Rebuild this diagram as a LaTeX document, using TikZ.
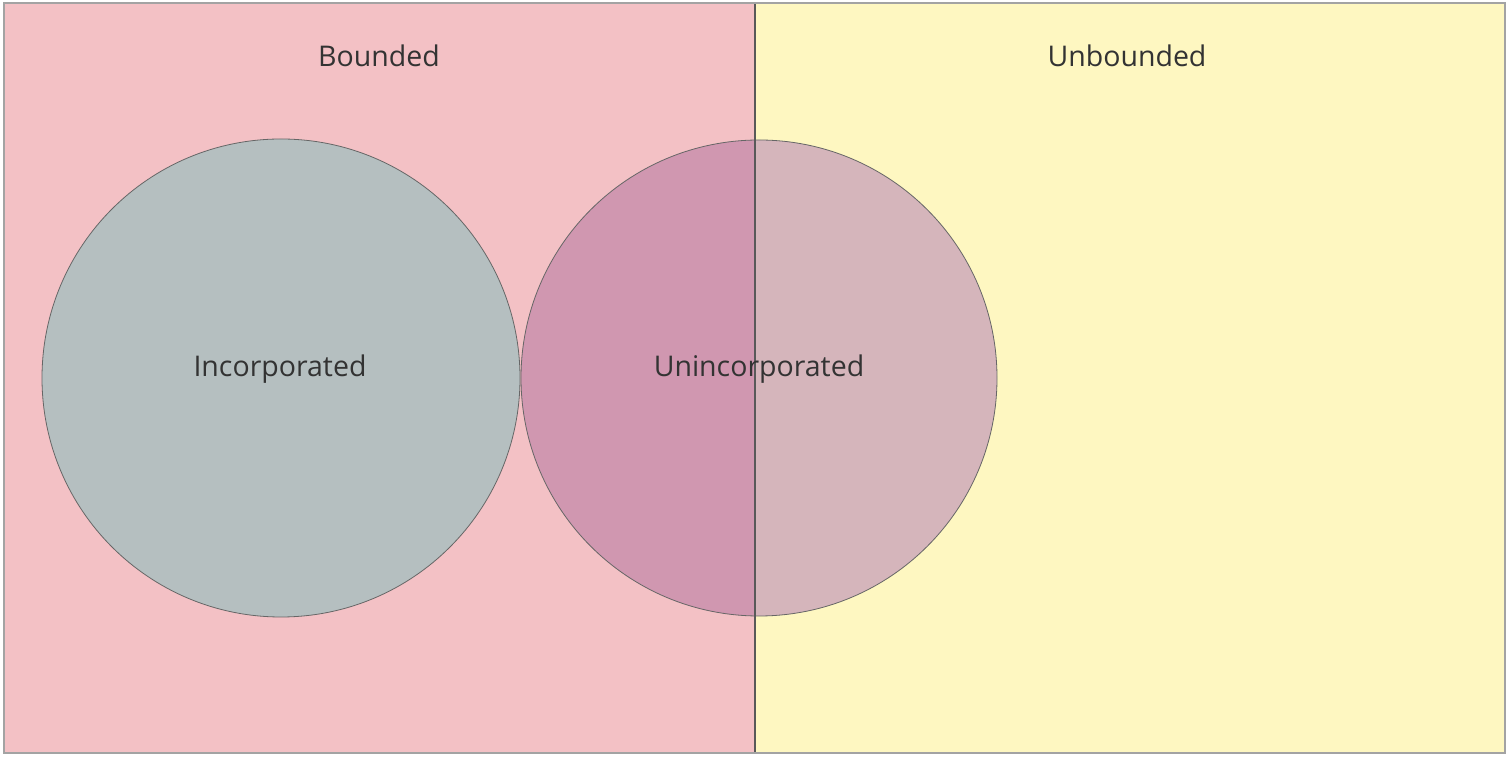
\documentclass[tikz,border=0pt]{standalone}
\usepackage{fontspec}
\setmainfont{Open Sans}
\definecolor{bpink}{HTML}{F3C1C5}
\definecolor{uyellow}{HTML}{FEF7C1}
\definecolor{incgray}{HTML}{B5BFC0}
\definecolor{unleft}{HTML}{D097B0}
\definecolor{unright}{HTML}{D5B5BB}
\definecolor{frame}{HTML}{A3A3A3}
\definecolor{txt}{HTML}{333333}
\tikzset{
  lbl/.style={text=txt, font=\fontsize{28.5}{34}\selectfont, inner sep=0pt},
  ring/.style={draw=gray!80!black, line width=0.8pt},
}
\begin{document}
\begin{tikzpicture}[x=1pt,y=1pt]
\useasboundingbox (0,0) rectangle (1507,757);
% regions
\fill[bpink] (4,4) rectangle (755,754);
\fill[uyellow] (755,4) rectangle (1505,754);
% circles
\fill[incgray] (281,379) circle (239);
\begin{scope}
  \clip (500,0) rectangle (755,757);
  \fill[unleft] (759,379) circle (238);
\end{scope}
\begin{scope}
  \clip (755,0) rectangle (1100,757);
  \fill[unright] (759,379) circle (238);
\end{scope}
\draw[ring] (281,379) circle (239);
\draw[ring] (759,379) circle (238);
% divider
\coordinate (dtop) at (755,754);
\coordinate (dbot) at (755,4);
\draw[draw=gray!70!black, line width=1.2pt] (dtop) -- (dbot);
% frame
\draw[draw=frame, line width=2.5pt] (4,4) rectangle (1505,754);
% labels
\node[lbl] (bounded) at (379,701) {Bounded};
\node[lbl] (unbounded) at (1127,701) {Unbounded};
\node[lbl] (inc) at (280,388) {Incorporated};
\node[lbl] (uninc) at (759,388) {Unincorporated};
\end{tikzpicture}
\end{document}
